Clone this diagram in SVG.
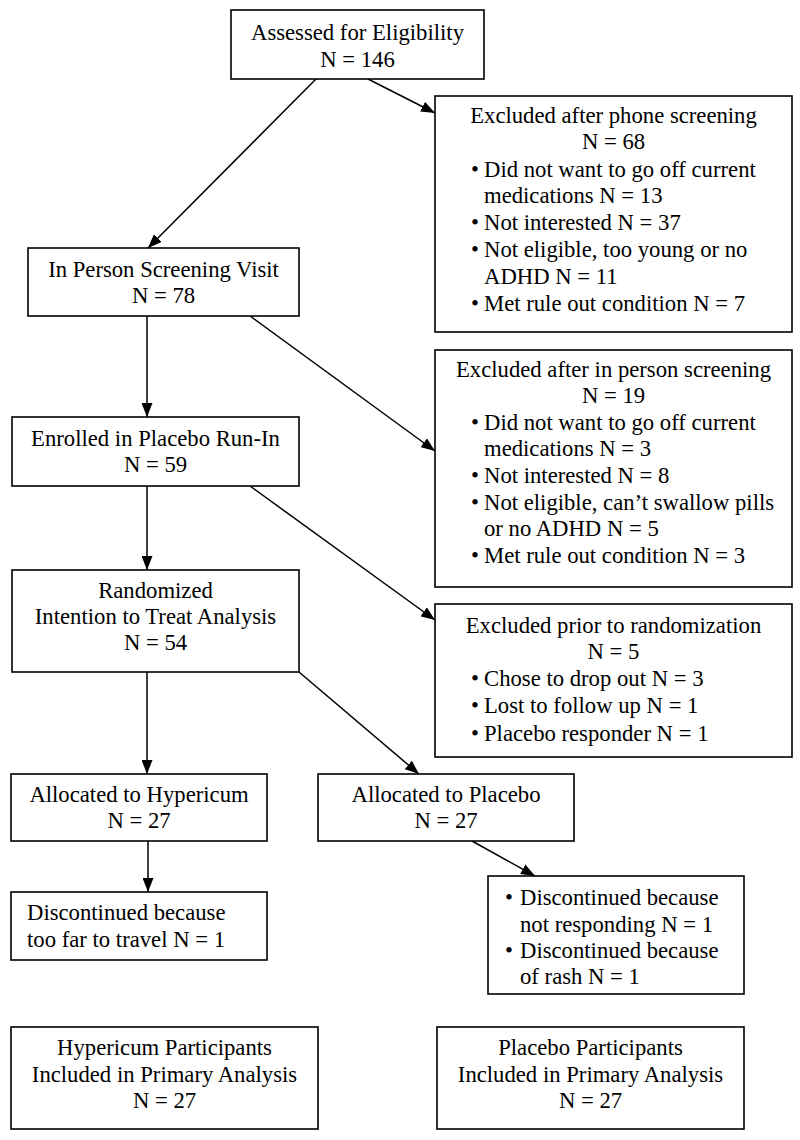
<svg xmlns="http://www.w3.org/2000/svg" width="800" height="1140" viewBox="0 0 800 1140">
<defs>
<marker id="ah" viewBox="0 0 14 11" refX="14" refY="5.5" markerWidth="14" markerHeight="11" markerUnits="userSpaceOnUse" orient="auto">
<path d="M0,0 L14,5.5 L0,11 Z" fill="#000"/>
</marker>
</defs>
<style>
rect{fill:#fff;stroke:#000;stroke-width:1.6}
text{font-family:"Liberation Serif","Times New Roman",serif;font-size:22.7px;fill:#000}
.c{text-anchor:middle}
.e line{stroke:#000;stroke-width:1.5;marker-end:url(#ah)}
</style>
<rect x="0" y="0" width="800" height="1140" style="stroke:none"/>
<g class="e" id="connectors">
<line x1="316" y1="79" x2="148" y2="248"/>
<line x1="368" y1="79" x2="435" y2="113"/>
<line x1="147" y1="316" x2="147" y2="417"/>
<line x1="250" y1="316" x2="435" y2="451"/>
<line x1="147" y1="486" x2="147" y2="570"/>
<line x1="250" y1="486" x2="435" y2="620"/>
<line x1="147" y1="672" x2="147" y2="774"/>
<line x1="299" y1="672" x2="419" y2="774"/>
<line x1="148" y1="841" x2="148" y2="892"/>
<line x1="472" y1="841" x2="535" y2="876"/>
</g>
<g id="assessed">
<rect x="231" y="10" width="253" height="69"/>
<text class="c" x="357.5" y="40">Assessed for Eligibility</text>
<text class="c" x="357.5" y="67">N = 146</text>
</g>
<g id="excluded-phone">
<rect x="435" y="96" width="357" height="236"/>
<text class="c" x="613.5" y="123">Excluded after phone screening</text>
<text class="c" x="613.5" y="149">N = 68</text>
<text x="471" y="177">•</text><text x="484" y="177">Did not want to go off current</text>
<text x="484" y="203">medications N = 13</text>
<text x="471" y="230">•</text><text x="484" y="230">Not interested N = 37</text>
<text x="471" y="257">•</text><text x="484" y="257">Not eligible, too young or no</text>
<text x="484" y="284">ADHD N = 11</text>
<text x="471" y="311">•</text><text x="484" y="311">Met rule out condition N = 7</text>
</g>
<g id="in-person">
<rect x="28" y="248" width="271" height="68"/>
<text class="c" x="163.5" y="277">In Person Screening Visit</text>
<text class="c" x="163.5" y="303">N = 78</text>
</g>
<g id="excluded-in-person">
<rect x="435" y="350" width="357" height="237"/>
<text class="c" x="613.5" y="377">Excluded after in person screening</text>
<text class="c" x="613.5" y="403">N = 19</text>
<text x="471" y="430">•</text><text x="484" y="430">Did not want to go off current</text>
<text x="484" y="456">medications N = 3</text>
<text x="471" y="483">•</text><text x="484" y="483">Not interested N = 8</text>
<text x="471" y="510">•</text><text x="484" y="510">Not eligible, can’t swallow pills</text>
<text x="484" y="536">or no ADHD N = 5</text>
<text x="471" y="563">•</text><text x="484" y="563">Met rule out condition N = 3</text>
</g>
<g id="enrolled">
<rect x="12" y="417" width="287" height="69"/>
<text class="c" x="155.5" y="446">Enrolled in Placebo Run-In</text>
<text class="c" x="155.5" y="472">N = 59</text>
</g>
<g id="randomized">
<rect x="12" y="570" width="287" height="102"/>
<text class="c" x="155.5" y="598">Randomized</text>
<text class="c" x="155.5" y="624">Intention to Treat Analysis</text>
<text class="c" x="155.5" y="650">N = 54</text>
</g>
<g id="excluded-prior">
<rect x="435" y="604" width="357" height="153"/>
<text class="c" x="613.5" y="633">Excluded prior to randomization</text>
<text class="c" x="613.5" y="659">N = 5</text>
<text x="471" y="686">•</text><text x="484" y="686">Chose to drop out N = 3</text>
<text x="471" y="713">•</text><text x="484" y="713">Lost to follow up N = 1</text>
<text x="471" y="741">•</text><text x="484" y="741">Placebo responder N = 1</text>
</g>
<g id="alloc-hypericum">
<rect x="11" y="774" width="256" height="67"/>
<text class="c" x="139" y="802">Allocated to Hypericum</text>
<text class="c" x="139" y="828">N = 27</text>
</g>
<g id="alloc-placebo">
<rect x="318" y="774" width="256" height="67"/>
<text class="c" x="446" y="802">Allocated to Placebo</text>
<text class="c" x="446" y="828">N = 27</text>
</g>
<g id="disc-hypericum">
<rect x="11" y="892" width="256" height="68"/>
<text x="27" y="920">Discontinued because</text>
<text x="27" y="947">too far to travel N = 1</text>
</g>
<g id="disc-placebo">
<rect x="488" y="876" width="256" height="118"/>
<text x="505" y="905">•</text><text x="520" y="905">Discontinued because</text>
<text x="520" y="932">not responding N = 1</text>
<text x="505" y="958">•</text><text x="520" y="958">Discontinued because</text>
<text x="520" y="984">of rash N = 1</text>
</g>
<g id="final-hypericum">
<rect x="11" y="1027" width="307" height="102"/>
<text class="c" x="164.5" y="1055">Hypericum Participants</text>
<text class="c" x="164.5" y="1082">Included in Primary Analysis</text>
<text class="c" x="164.5" y="1108">N = 27</text>
</g>
<g id="final-placebo">
<rect x="437" y="1027" width="307" height="102"/>
<text class="c" x="590.5" y="1055">Placebo Participants</text>
<text class="c" x="590.5" y="1082">Included in Primary Analysis</text>
<text class="c" x="590.5" y="1108">N = 27</text>
</g>
</svg>
